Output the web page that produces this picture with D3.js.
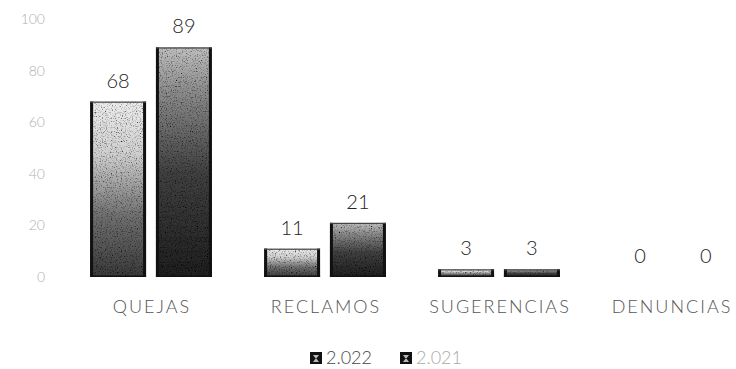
<!DOCTYPE html>
<html><head><meta charset="utf-8">
<script src="https://cdn.jsdelivr.net/npm/d3@7"></script>
<style>body{margin:0;background:#fff;} svg{display:block;}</style>
</head><body>
<div id="chart"></div>
<script>
const categories = ["QUEJAS", "RECLAMOS", "SUGERENCIAS", "DENUNCIAS"];
const seriesNames = ["2.022", "2.021"];
const values2022 = [68, 11, 3, 0];
const values2021 = [89, 21, 3, 0];
const yTicks = [0, 20, 40, 60, 80, 100];

const W = 736, H = 369;
const svg = d3.select("#chart").append("svg").attr("width", W).attr("height", H);
const defs = svg.append("defs");

// gradients to imitate the grainy grayscale fills
const g1 = defs.append("linearGradient").attr("id", "g2022").attr("x1", 0).attr("y1", 1).attr("x2", 0).attr("y2", 0);
g1.append("stop").attr("offset", "0%").attr("stop-color", "#3a3a3a");
g1.append("stop").attr("offset", "35%").attr("stop-color", "#707070");
g1.append("stop").attr("offset", "70%").attr("stop-color", "#d0d0d0");
g1.append("stop").attr("offset", "100%").attr("stop-color", "#ececec");
const g2 = defs.append("linearGradient").attr("id", "g2021").attr("x1", 0).attr("y1", 1).attr("x2", 0).attr("y2", 0);
g2.append("stop").attr("offset", "0%").attr("stop-color", "#202020");
g2.append("stop").attr("offset", "45%").attr("stop-color", "#404040");
g2.append("stop").attr("offset", "80%").attr("stop-color", "#8a8a8a");
g2.append("stop").attr("offset", "100%").attr("stop-color", "#c0c0c0");

const f = defs.append("filter").attr("id", "grain").attr("x", 0).attr("y", 0).attr("width", 1).attr("height", 1);
f.append("feTurbulence").attr("type", "fractalNoise").attr("baseFrequency", 0.8).attr("numOctaves", 2).attr("seed", 3).attr("result", "noise");
f.append("feColorMatrix").attr("in", "noise").attr("type", "matrix")
  .attr("values", "0 0 0 0 0  0 0 0 0 0  0 0 0 0 0  0 0 0 -2.6 1.3").attr("result", "dark");
f.append("feComposite").attr("in", "dark").attr("in2", "SourceGraphic").attr("operator", "in").attr("result", "darkIn");
f.append("feMerge").selectAll("feMergeNode").data(["SourceGraphic", "darkIn"]).join("feMergeNode").attr("in", d => d);

const fills = {"2.022": "url(#g2022)", "2.021": "url(#g2021)"};

const x0 = d3.scaleBand().domain(categories).range([64, 760]).paddingInner(0.3).paddingOuter(0.15);
const x1 = d3.scaleBand().domain(seriesNames).range([0, x0.bandwidth()]).paddingInner(0.15);
const y = d3.scaleLinear().domain([0, 100]).range([277, 19]);

const FONT = "'Century Gothic', Lato, 'Open Sans', sans-serif";

// y tick labels (no axis line)
svg.append("g").selectAll("text").data(yTicks).join("text")
  .attr("x", 45).attr("y", d => y(d)).attr("dy", "0.35em")
  .attr("text-anchor", "end")
  .attr("font-family", FONT).attr("font-weight", 300)
  .attr("font-size", 14).attr("fill", "#b0b0b0")
  .text(d => d);

const data = categories.map((c, i) => ({cat: c, vals: [
  {s: "2.022", v: values2022[i]}, {s: "2.021", v: values2021[i]}]}));

const groups = svg.append("g").selectAll("g").data(data).join("g")
  .attr("transform", d => `translate(${x0(d.cat)},0)`);

groups.each(function(d) {
  const g = d3.select(this);
  d.vals.forEach(e => {
    const bx = x1(e.s), bw = x1.bandwidth();
    const top = y(e.v), h = y(0) - y(e.v);
    if (h > 0) {
      g.append("rect").attr("x", bx).attr("y", top).attr("width", bw).attr("height", h)
        .attr("fill", fills[e.s]).attr("filter", "url(#grain)");
      g.append("rect").attr("x", bx).attr("y", top).attr("width", 3).attr("height", h).attr("fill", "#111");
      g.append("rect").attr("x", bx + bw - 3).attr("y", top).attr("width", 3).attr("height", h).attr("fill", "#111");
      g.append("rect").attr("x", bx).attr("y", top).attr("width", bw).attr("height", 1.2).attr("fill", "#444");
      g.append("rect").attr("x", bx).attr("y", y(0) - 1.5).attr("width", bw).attr("height", 1.5).attr("fill", "#111");
    }
    g.append("text").attr("x", bx + bw / 2).attr("y", top - 14)
      .attr("text-anchor", "middle")
      .attr("font-family", FONT).attr("font-weight", 300)
      .attr("font-size", 20).attr("fill", "#222").text(e.v);
  });
});

// category labels
const ls = 2;
svg.append("g").selectAll("text").data(categories).join("text")
  .attr("x", d => Math.min(x0(d) + x0.bandwidth() / 2 + ls / 2, 672)).attr("y", 307).attr("dy", "0.35em")
  .attr("text-anchor", "middle")
  .attr("font-family", FONT).attr("font-weight", 300)
  .attr("font-size", 18).attr("letter-spacing", ls).attr("fill", "#555")
  .text(d => d);

// legend
const legendX = [310, 400];
const legendTextColor = ["#444", "#aaa"];
const lg = svg.append("g").selectAll("g").data(seriesNames).join("g")
  .attr("transform", (d, i) => `translate(${legendX[i]},358)`);
lg.append("rect").attr("x", 0).attr("y", -6).attr("width", 12).attr("height", 12).attr("fill", "#111");
lg.append("path").attr("d", "M3,-3 L9,-3 L6,1 Z M3,4 L9,4 L6,0 Z").attr("fill", "#fff").attr("opacity", 0.7);
lg.append("text").attr("x", 16).attr("y", 0).attr("dy", "0.35em")
  .attr("font-family", FONT).attr("font-weight", 300)
  .attr("font-size", 18).attr("fill", (d, i) => legendTextColor[i])
  .text(d => d);
</script>
</body></html>
